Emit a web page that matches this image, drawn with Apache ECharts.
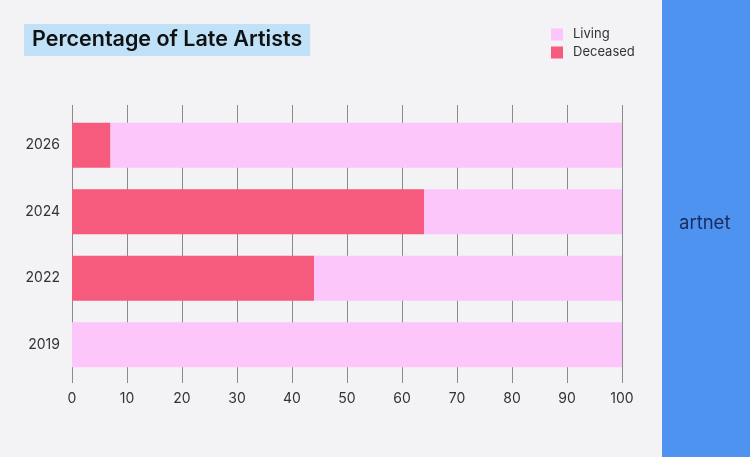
<!DOCTYPE html>
<html>
<head>
<meta charset="utf-8">
<script src="https://cdn.jsdelivr.net/npm/echarts@6/dist/echarts.min.js"></script>
<style>
  html, body { margin: 0; padding: 0; background: #f3f2f4; }
  #main { width: 750px; height: 457px; }
</style>
</head>
<body>
<div id="main"></div>
<script>
// data
var years = ['2019', '2022', '2024', '2026'];
var deceased = [0, 44, 64, 7];
var living = [100, 56, 36, 93];
var xTicks = [0, 10, 20, 30, 40, 50, 60, 70, 80, 90, 100];

var chart = echarts.init(document.getElementById('main'));
var option = {
    backgroundColor: '#f3f2f4',
    animation: false,
    title: {
        text: 'Percentage of Late Artists',
        left: 24,
        top: 24,
        padding: [5, 8, 5, 8],
        backgroundColor: '#bfe2f8',
        textStyle: {
            fontFamily: 'Inter',
            fontWeight: 600,
            fontSize: 21.5,
            color: '#111',
            lineHeight: 22
        }
    },
    legend: {
        data: ['Living', 'Deceased'],
        orient: 'vertical',
        left: 551,
        top: 28,
        padding: 0,
        itemWidth: 12,
        itemHeight: 12,
        itemGap: 5,
        icon: 'rect',
        textStyle: { fontFamily: 'Inter', fontSize: 13, color: '#333', padding: [0, 0, 0, 5] }
    },
    grid: { left: 72, right: 128, top: 112, bottom: 79 },
    xAxis: [{
        type: 'value',
        min: 0,
        max: 100,
        interval: 10,
        axisLine: { show: false },
        axisTick: { show: true, length: 5, lineStyle: { color: '#8a8a8a' } },
        axisLabel: { margin: 14, fontFamily: 'Inter', fontSize: 14, color: '#333' },
        splitLine: { show: true, lineStyle: { color: '#8a8a8a', width: 1 } }
    }, {
        type: 'value',
        position: 'top',
        min: 0,
        max: 100,
        interval: 10,
        axisLine: { show: false },
        axisTick: { show: true, length: 7, lineStyle: { color: '#8a8a8a' } },
        axisLabel: { show: false },
        splitLine: { show: false }
    }],
    yAxis: {
        type: 'category',
        data: years,
        axisLine: { show: false },
        axisTick: { show: false },
        axisLabel: { margin: 12, fontFamily: 'Inter', fontSize: 14, color: '#333', padding: [3, 0, 0, 0] }
    },
    series: [{
        name: 'Deceased',
        type: 'bar',
        stack: 'total',
        barWidth: 45,
        itemStyle: { color: '#f65a7d' },
        data: deceased
    }, {
        name: 'Living',
        type: 'bar',
        stack: 'total',
        barWidth: 45,
        itemStyle: { color: '#fdc6fb' },
        data: living
    }],
    graphic: [{
        type: 'rect',
        shape: { x: 662, y: 0, width: 88, height: 457 },
        style: { fill: '#4f93f1' },
        z: 10
    }, {
        type: 'text',
        left: 679,
        top: 214,
        style: { text: 'artnet', fontFamily: 'Inter', fontSize: 18.5, fill: '#1b2b5c' },
        z: 11
    }]
};
chart.setOption(option);
</script>
</body>
</html>
